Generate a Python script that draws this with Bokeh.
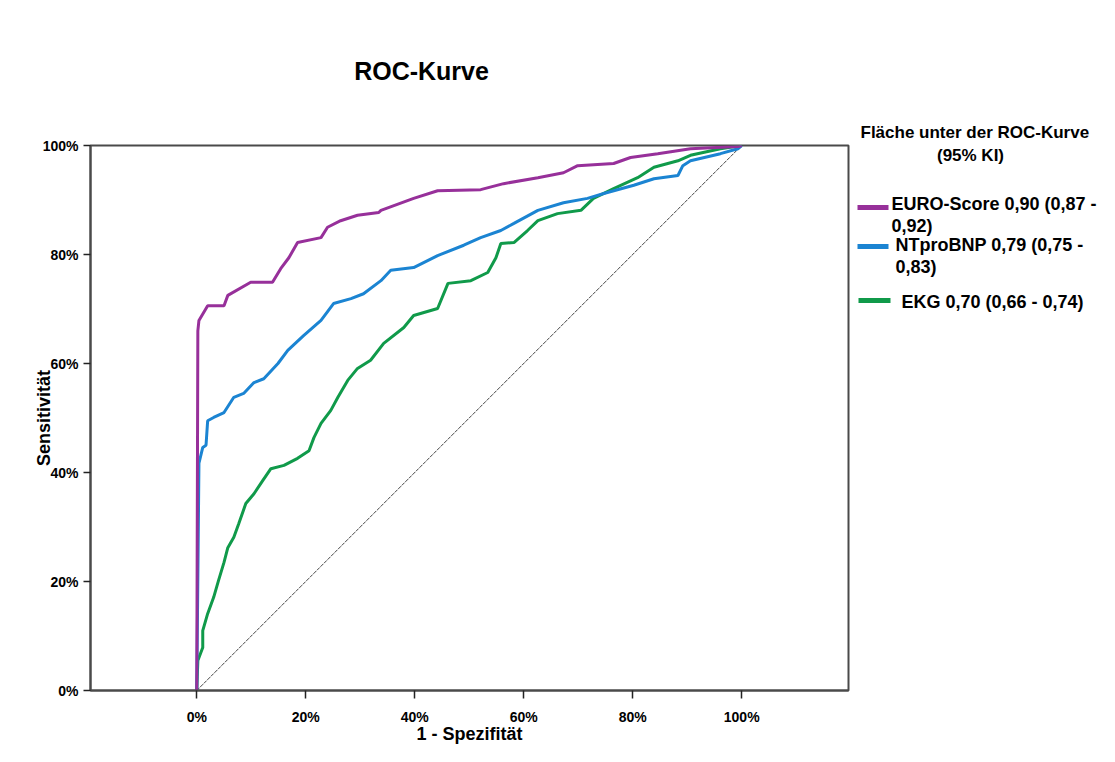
from bokeh.plotting import figure
from bokeh.models import Range1d, FixedTicker, NumeralTickFormatter
from bokeh.layouts import row, column
from bokeh.core.properties import value
from bokeh.embed import file_html
from bokeh.resources import INLINE

# ---------------- data ----------------
euro_fpr = [0.0, 0.002, 0.004, 0.02, 0.05, 0.057, 0.099, 0.139, 0.154, 0.169, 0.185, 0.228,
            0.24, 0.264, 0.295, 0.334, 0.338, 0.398, 0.442, 0.521, 0.563, 0.626, 0.673, 0.699,
            0.765, 0.796, 0.846, 0.906, 0.993, 1.0]
euro_tpr = [0.0, 0.66, 0.679, 0.706, 0.706, 0.725, 0.749, 0.749, 0.774, 0.794, 0.822, 0.831,
            0.85, 0.862, 0.872, 0.877, 0.881, 0.903, 0.917, 0.919, 0.93, 0.941, 0.95, 0.963,
            0.967, 0.978, 0.985, 0.994, 0.998, 1.0]

bnp_fpr = [0.0, 0.004, 0.011, 0.017, 0.02, 0.031, 0.05, 0.068, 0.086, 0.105, 0.123, 0.149,
           0.167, 0.196, 0.228, 0.251, 0.283, 0.306, 0.338, 0.356, 0.398, 0.442, 0.49, 0.521,
           0.558, 0.582, 0.626, 0.673, 0.717, 0.747, 0.802, 0.839, 0.883, 0.892, 0.906, 0.961,
           0.993, 1.0]
bnp_tpr = [0.0, 0.417, 0.446, 0.45, 0.495, 0.501, 0.51, 0.538, 0.545, 0.565, 0.572, 0.6,
           0.624, 0.651, 0.679, 0.71, 0.719, 0.728, 0.752, 0.771, 0.776, 0.798, 0.817, 0.831,
           0.844, 0.857, 0.881, 0.895, 0.903, 0.912, 0.927, 0.939, 0.945, 0.963, 0.972, 0.985,
           0.994, 1.0]

ekg_fpr = [0.0, 0.002, 0.011, 0.011, 0.02, 0.031, 0.04, 0.05, 0.057, 0.068, 0.077, 0.09,
           0.105, 0.121, 0.136, 0.16, 0.185, 0.206, 0.215, 0.228, 0.246, 0.259, 0.277, 0.295,
           0.319, 0.343, 0.38, 0.398, 0.442, 0.461, 0.503, 0.534, 0.549, 0.558, 0.582, 0.607,
           0.626, 0.662, 0.705, 0.728, 0.765, 0.809, 0.839, 0.883, 0.906, 0.961, 1.0]
ekg_tpr = [0.0, 0.055, 0.079, 0.11, 0.141, 0.171, 0.202, 0.235, 0.262, 0.281, 0.306, 0.343,
           0.361, 0.385, 0.407, 0.413, 0.426, 0.44, 0.464, 0.49, 0.514, 0.538, 0.569, 0.591,
           0.606, 0.637, 0.666, 0.688, 0.701, 0.747, 0.752, 0.767, 0.794, 0.82, 0.822, 0.844,
           0.862, 0.875, 0.881, 0.903, 0.921, 0.941, 0.96, 0.972, 0.982, 0.994, 1.0]

diag_x = [0.0, 1.0]
diag_y = [0.0, 1.0]

tick_values = [0.0, 0.2, 0.4, 0.6, 0.8, 1.0]

series_line1 = ["EURO-Score 0,90 (0,87 -", "NTproBNP 0,79 (0,75 -", "EKG 0,70 (0,66 - 0,74)"]
series_line2 = ["0,92)", "0,83)", ""]
legend_title_1 = "Fläche unter der ROC-Kurve"
legend_title_2 = "(95% KI)"
title_text = "ROC-Kurve"
x_label = "1 - Spezifität"
y_label = "Sensitivität"

colors = ["#97309a", "#1b84d2", "#109a4a"]

FONT = "Liberation Sans"
W_TOTAL, H_TOTAL = 1099, 746
MAIN_W = 852
TITLE_H = 100
FRAME_L, FRAME_R, FRAME_T, FRAME_B = 90, 848, 145, 690


def blank(fig):
    fig.axis.visible = False
    fig.grid.visible = False
    fig.outline_line_color = None
    fig.background_fill_color = "white"
    fig.border_fill_color = "white"


# ---------------- title strip (its frame is aligned with the main frame) ----------------
pt = figure(width=MAIN_W, height=TITLE_H, output_backend="svg", toolbar_location=None,
            x_range=Range1d(FRAME_L, FRAME_R), y_range=Range1d(TITLE_H, 0),
            min_border=0)
blank(pt)
pt.text(x=[421], y=[70], text=[title_text], text_font=value(FONT), text_font_style="bold",
        text_font_size="25px", text_color="black", text_align="center", text_baseline="middle")

# ---------------- main chart ----------------
p = figure(width=MAIN_W, height=H_TOTAL - TITLE_H, output_backend="svg", toolbar_location=None,
           x_range=Range1d(-0.195, 1.196), y_range=Range1d(0.0, 1.0),
           min_border_left=FRAME_L, min_border_right=MAIN_W - FRAME_R,
           min_border_top=FRAME_T - TITLE_H, min_border_bottom=H_TOTAL - FRAME_B)
p.background_fill_color = "white"
p.border_fill_color = "white"
p.outline_line_color = "#4a4a4a"
p.outline_line_width = 2
p.xgrid.visible = False
p.ygrid.visible = False

for ax in (p.xaxis[0], p.yaxis[0]):
    ax.ticker = FixedTicker(ticks=tick_values)
    ax.formatter = NumeralTickFormatter(format="0%")
    ax.minor_tick_line_color = None
    ax.major_tick_in = 0
    ax.major_tick_line_color = "#222222"
    ax.major_tick_line_width = 1.5
    ax.axis_line_color = "#4a4a4a"
    ax.axis_line_width = 2
    ax.major_label_text_font = FONT
    ax.major_label_text_font_style = "bold"
    ax.major_label_text_font_size = "14px"
    ax.major_label_text_color = "black"
    ax.axis_label_text_font = FONT
    ax.axis_label_text_font_style = "bold"
    ax.axis_label_text_color = "black"

p.xaxis[0].major_tick_out = 8
p.xaxis[0].major_label_standoff = 10
p.xaxis[0].axis_label = x_label
p.xaxis[0].axis_label_text_font_size = "18px"
p.xaxis[0].axis_label_standoff = -4

p.yaxis[0].major_tick_out = 7
p.yaxis[0].major_label_standoff = 5
p.yaxis[0].axis_label = y_label
p.yaxis[0].axis_label_text_font_size = "18px"
p.yaxis[0].axis_label_standoff = -14

# diagonal reference
p.line(diag_x, diag_y, line_color="#444444", line_width=1, line_dash="4 1")

# ROC curves
p.line(ekg_fpr, ekg_tpr, line_color=colors[2], line_width=3)
p.line(bnp_fpr, bnp_tpr, line_color=colors[1], line_width=3)
p.line(euro_fpr, euro_tpr, line_color=colors[0], line_width=3)

# ---------------- legend panel ----------------
pl = figure(width=W_TOTAL - MAIN_W, height=H_TOTAL, output_backend="svg", toolbar_location=None,
            x_range=Range1d(MAIN_W, W_TOTAL), y_range=Range1d(H_TOTAL, 0), min_border=0)
blank(pl)

txt_kw = dict(text_font=value(FONT), text_font_style="bold",
              text_color="black", text_baseline="middle")
pl.text(x=[860], y=[132], text=[legend_title_1], text_align="left", text_font_size="17px", **txt_kw)
pl.text(x=[970], y=[155], text=[legend_title_2], text_align="center", text_font_size="17px", **txt_kw)

sw_y = [207, 246, 300]
sw_x0 = [857, 857, 858]
sw_x1 = [888, 888, 890]
txt_x = [891, 895, 901]
txt_y = [203, 244, 301]
pl.segment(x0=sw_x0, y0=sw_y, x1=sw_x1, y1=sw_y, line_color=colors, line_width=5)
pl.text(x=txt_x, y=txt_y, text=series_line1, text_align="left", text_font_size="18px", **txt_kw)
pl.text(x=txt_x[:2], y=[v + 22 for v in txt_y[:2]], text=series_line2[:2], text_align="left",
        text_font_size="18px", **txt_kw)

layout = row(column(pt, p), pl)
open("out.html", "w").write(file_html(layout, INLINE))
